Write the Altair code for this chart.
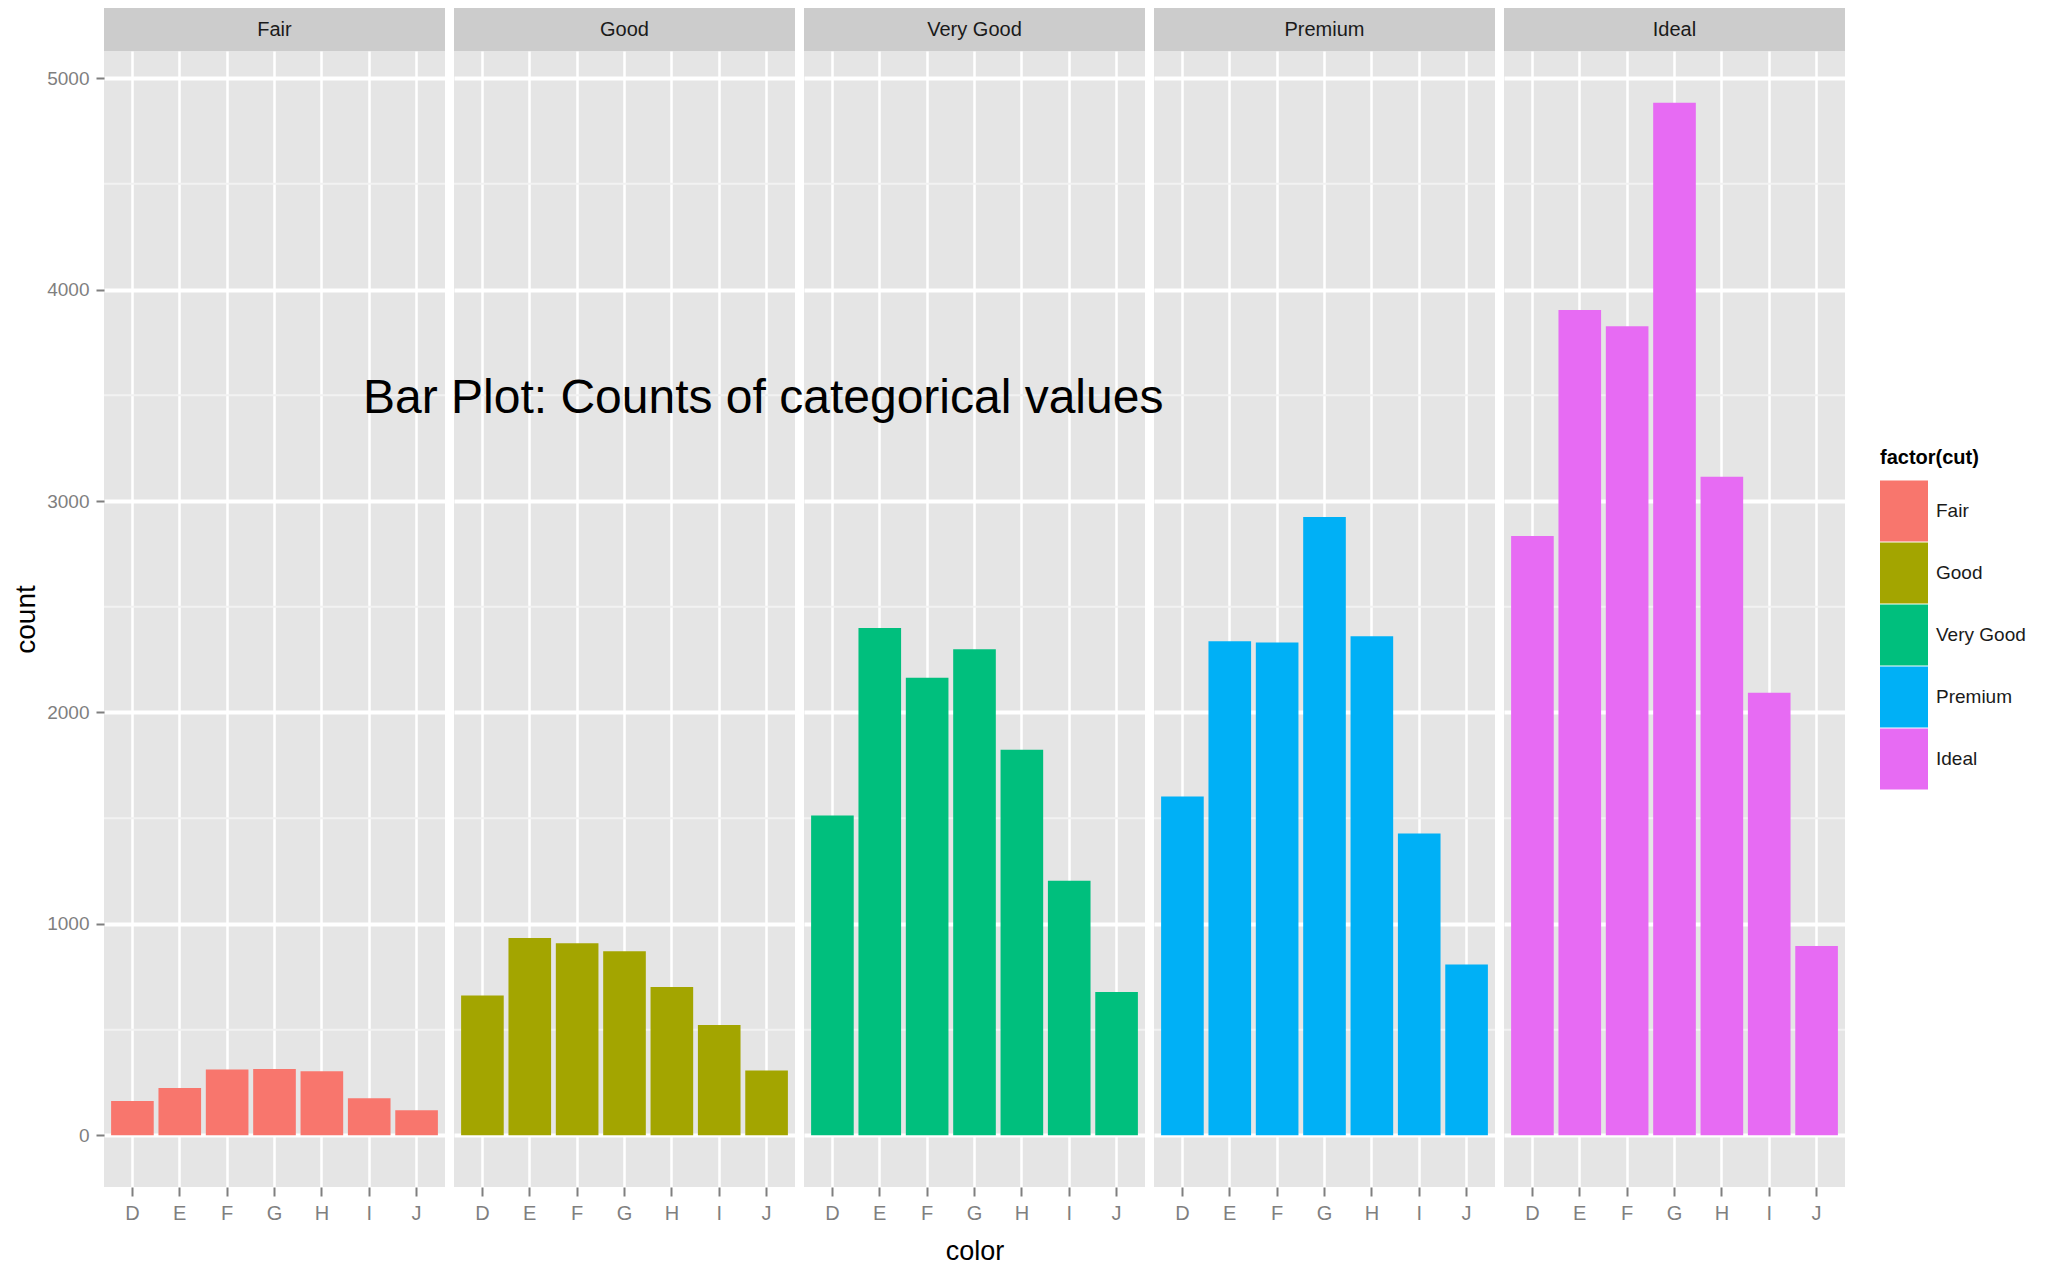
import altair as alt
import pandas as pd

# ---- data (diamonds: counts of cut x color) ----
cuts = ["Fair", "Good", "Very Good", "Premium", "Ideal"]
color_levels = ["D", "E", "F", "G", "H", "I", "J"]
fair_counts = [163, 224, 312, 314, 303, 175, 119]
good_counts = [662, 933, 909, 871, 702, 522, 307]
very_good_counts = [1513, 2400, 2164, 2299, 1824, 1204, 678]
premium_counts = [1603, 2337, 2331, 2924, 2360, 1428, 808]
ideal_counts = [2834, 3903, 3826, 4884, 3115, 2093, 896]
palette = ["#F8766D", "#A3A500", "#00BF7D", "#00B0F6", "#E76BF3"]
y_major = [0, 1000, 2000, 3000, 4000, 5000]
y_minor = [500, 1500, 2500, 3500, 4500]
y_domain = [-244.2, 5128.2]

all_counts = [fair_counts, good_counts, very_good_counts, premium_counts, ideal_counts]
rows = []
for cut, vals in zip(cuts, all_counts):
    for c, v in zip(color_levels, vals):
        rows.append({"cut": cut, "color": c, "count": v})
df = pd.DataFrame(rows)
strip_df = pd.DataFrame({"cut": cuts})
minor_df = pd.DataFrame({"v": y_minor})

FONT = "Liberation Sans, Arial"
W, H, SH = 341, 1136, 43

yscale = alt.Scale(domain=y_domain, nice=False, zero=False)
cscale = alt.Scale(domain=cuts, range=palette)


def panel(i, cut):
    first = i == 0
    strip = (
        alt.Chart(strip_df)
        .transform_filter(alt.datum.cut == cut)
        .mark_text(font=FONT, fontSize=20, color="#1A1A1A", baseline="middle", align="center")
        .encode(text="cut:N")
        .properties(width=W, height=SH, view=alt.ViewBackground(fill="#CCCCCC", strokeWidth=0))
    )

    if first:
        yaxis = alt.Axis(
            values=y_major, format="d", grid=True, gridColor="white", gridWidth=4, domain=False,
            ticks=True, tickColor="#7F7F7F", tickSize=8, tickWidth=2,
            labels=True, labelFont=FONT, labelFontSize=19, labelColor="#7F7F7F", labelPadding=7,
            title="count", titleFont=FONT, titleFontSize=28, titleColor="black",
            titleFontWeight="normal", titlePadding=6,
        )
        ytitle = "count"
    else:
        yaxis = alt.Axis(
            values=y_major, grid=True, gridColor="white", gridWidth=4, domain=False,
            ticks=False, labels=False,
        )
        ytitle = None

    xcommon = dict(
        grid=True, gridColor="white", gridWidth=2.5, bandPosition=0.5, domain=False,
        tickColor="#7F7F7F", tickSize=9, tickWidth=2, labelAngle=0,
        labelFont=FONT, labelFontSize=20, labelColor="#7F7F7F", labelPadding=7,
    )
    if i == 2:
        xaxis = alt.Axis(
            title="color", titleFont=FONT, titleFontSize=27, titleColor="black",
            titleFontWeight="normal", titlePadding=15, **xcommon,
        )
        xtitle = "color"
    else:
        xaxis = alt.Axis(**xcommon)
        xtitle = None

    minor = (
        alt.Chart(minor_df)
        .mark_rule(color="#F2F2F2", strokeWidth=2)
        .encode(y=alt.Y("v:Q", scale=yscale, axis=yaxis, title=ytitle))
    )
    bars = (
        alt.Chart(df)
        .transform_filter(alt.datum.cut == cut)
        .mark_bar()
        .encode(
            x=alt.X("color:N", scale=alt.Scale(domain=color_levels, paddingInner=0.1, paddingOuter=0.15),
                    axis=xaxis, title=xtitle),
            y=alt.Y("count:Q", scale=yscale, axis=yaxis, title=ytitle),
            color=alt.Color(
                "cut:N", scale=cscale,
                legend=alt.Legend(
                    title="factor(cut)", orient="none", legendX=1776, legendY=440,
                    titleFont=FONT, titleFontSize=20, titleFontWeight="bold", titleColor="black",
                    titlePadding=19, labelFont=FONT, labelFontSize=19, labelColor="#1A1A1A",
                    labelOffset=8, symbolType="M-1,-1.27H1V1.27H-1Z", symbolSize=2304,
                    symbolStrokeWidth=0, rowPadding=0, padding=0,
                ),
            ),
        )
    )
    plot = alt.layer(minor, bars).properties(
        width=W, height=H, view=alt.ViewBackground(fill="#E5E5E5", strokeWidth=0)
    )
    return alt.vconcat(strip, plot, spacing=0)


chart = (
    alt.hconcat(*[panel(i, c) for i, c in enumerate(cuts)], spacing=7)
    .resolve_scale(color="shared")
    .properties(
        title=alt.TitleParams(
            "Bar Plot: Counts of categorical values", font=FONT, fontSize=48, fontWeight="normal",
            color="black", anchor="start", frame="group", orient="top", offset=-415, dx=259, zindex=1,
        ),
        padding={"left": 4, "top": 0, "right": 0, "bottom": 0},
        background="white",
    )
    .configure_view(stroke="transparent")
)

chart.save("out.html", embed_options={"renderer": "svg", "actions": False})
